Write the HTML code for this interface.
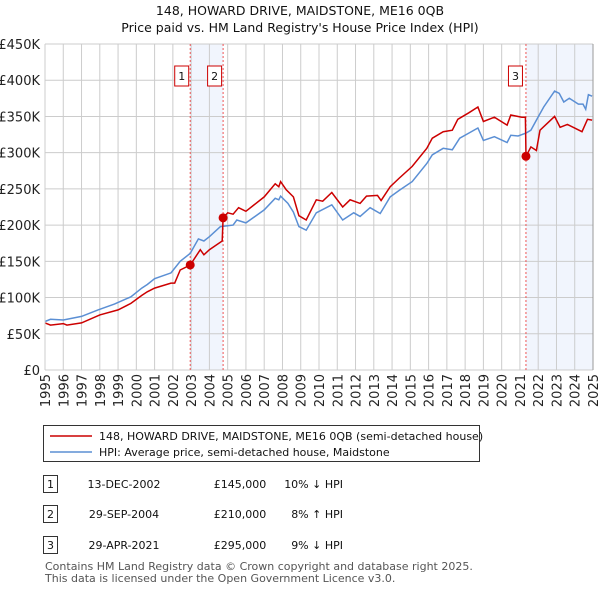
<!DOCTYPE html>
<html><head><meta charset="utf-8">
<style>
body{margin:0;background:#fff;font-family:"Liberation Sans","DejaVu Sans",sans-serif;}
#wrap{position:relative;width:600px;height:590px;overflow:hidden;}
svg text{font-family:"DejaVu Sans","Liberation Sans",sans-serif;}
</style></head>
<body>
<div id="wrap">
<svg id="chart" width="600" height="590"></svg>
</div>
<script>
const yTicks=[0,50,100,150,200,250,300,350,400,450];
const yTickLabels=["£0","£50K","£100K","£150K","£200K","£250K","£300K","£350K","£400K","£450K"];
const xTicks=[1995,1996,1997,1998,1999,2000,2001,2002,2003,2004,2005,2006,2007,2008,2009,2010,2011,2012,2013,2014,2015,2016,2017,2018,2019,2020,2021,2022,2023,2024,2025];
const hpiYears=[1995,1995.3,1996,1997,1997.9,1998.8,1999.7,2000.3,2000.6,2001,2001.9,2002.4,2002.95,2003.4,2003.7,2004,2004.6,2005.3,2005.5,2006,2007,2007.6,2007.8,2007.9,2008.3,2008.6,2008.9,2009.3,2009.85,2010.7,2011.3,2011.9,2012.25,2012.8,2013.35,2013.9,2014.4,2015.1,2015.9,2016.2,2016.8,2017.3,2017.7,2018.2,2018.7,2019,2019.6,2020.3,2020.5,2020.9,2021.33,2021.6,2021.9,2022.3,2022.9,2023.15,2023.4,2023.7,2024.2,2024.45,2024.6,2024.75,2024.95];
const hpiValues=[67,70,69,74,83,91,101,113,118,126,134,150,161,181,178,184,198,200,207,203,221,237,235,240,230,218,198,193,217,228,207,217,212,224,216,239,248,260,285,297,306,304,320,327,334,317,322,314,324,323,327,331,345,363,385,382,370,375,367,367,360,380,378];
const ppYears=[1995,1995.3,1996,1996.2,1997,1998,1999,1999.7,2000.3,2000.6,2001,2001.9,2002.1,2002.4,2002.95,2003.5,2003.7,2004,2004.7,2004.75,2005,2005.3,2005.6,2006,2007,2007.6,2007.8,2007.9,2008.2,2008.6,2008.9,2009.3,2009.85,2010.2,2010.7,2011.3,2011.7,2012.25,2012.6,2013.2,2013.4,2013.9,2014.4,2015.1,2015.9,2016.2,2016.8,2017.3,2017.6,2018.2,2018.7,2019,2019.6,2020.3,2020.5,2021.1,2021.3,2021.33,2021.6,2021.9,2022.1,2022.9,2023.2,2023.6,2024.4,2024.7,2024.95];
const ppValues=[65,62,64,62,65,76,83,92,103,108,113,120,120,138,145,166,159,166,178,210,217,215,224,219,239,257,253,260,249,239,213,207,235,233,245,225,235,230,240,241,234,253,265,281,306,320,329,331,346,355,363,343,349,338,352,349,349,295,308,303,331,350,335,339,329,346,345];
const saleYears=[2002.95,2004.75,2021.33];
const saleValues=[145,210,295];
const saleLabels=["1","2","3"];

const NS="http://www.w3.org/2000/svg";
const svg=document.getElementById('chart');
const L=45,R=593,T=44,B=370;
const x=y=>L+(y-1995)/30*(R-L);
const yv=v=>B-v/450*(B-T);
function el(tag,attrs,parent){const e=document.createElementNS(NS,tag);for(const k in attrs)e.setAttribute(k,attrs[k]);(parent||svg).appendChild(e);return e;}

// shaded regions
let s1=el('rect',{x:x(saleYears[0]),y:T,width:x(saleYears[1])-x(saleYears[0]),height:B-T,fill:'#eef3fc',opacity:0.8});


let s2=el('rect',{x:x(saleYears[2]),y:T,width:R-x(saleYears[2]),height:B-T,fill:'#eef3fc',opacity:0.8});



// grid
yTicks.forEach((t,i)=>{
  let g=el('line',{x1:L,x2:R,y1:yv(t),y2:yv(t),stroke:'#cccccc','stroke-width':1});
  
  
  let tx=el('text',{x:40,y:yv(t)+5,'text-anchor':'end','font-size':13,fill:'#222'});
  tx.textContent=yTickLabels[i];
  
  
});
xTicks.forEach(t=>{
  let g=el('line',{x1:x(t),x2:x(t),y1:T,y2:B,stroke:'#cccccc','stroke-width':1});
  
  
  let tx=el('text',{x:0,y:0,'text-anchor':'end','font-size':13,fill:'#222',transform:`translate(${x(t)+5},374) rotate(-90)`});
  tx.textContent=t;
  
  
});

// sale dashed lines
saleYears.forEach((s,i)=>{
  let d=el('line',{x1:x(s),x2:x(s),y1:T,y2:B,stroke:'#ee5555','stroke-width':1,'stroke-dasharray':'2,2'});
  
  
  let bx=x(s)-(i===2?11:9);
  let r=el('rect',{x:bx-6.5,y:66,width:14,height:20,fill:'#fff',stroke:'#cc0000','stroke-width':1});
  
  
  let t=el('text',{x:bx+0.5,y:80,'text-anchor':'middle','font-size':11,fill:'#111'});
  t.textContent=saleLabels[i];
  
  
});

function pts(xs,vs){return xs.map((a,i)=>x(a).toFixed(1)+','+yv(vs[i]).toFixed(1)).join(' ');}
let hl=el('polyline',{points:pts(hpiYears,hpiValues),fill:'none',stroke:'#5b8fd4','stroke-width':1.5});


let pl=el('polyline',{points:pts(ppYears,ppValues),fill:'none',stroke:'#cc0000','stroke-width':1.5});


saleYears.forEach((s,i)=>{
  let c=el('circle',{cx:x(s),cy:yv(saleValues[i]),r:4.5,fill:'#cc0000'});
  
  
});
// axis border
let ax=el('line',{x1:L,x2:L,y1:T,y2:B,stroke:'#cccccc'});


let ar=el('line',{x1:R,x2:R,y1:T,y2:B,stroke:'#999'});



// titles
function txt(str,attrs,name){let t=el('text',attrs);t.textContent=str;return t;}
txt('148, HOWARD DRIVE, MAIDSTONE, ME16 0QB',{x:300,y:15,'text-anchor':'middle','font-size':12.5,fill:'#111'},'chart-title');
txt("Price paid vs. HM Land Registry's House Price Index (HPI)",{x:300,y:32,'text-anchor':'middle','font-size':12.5,fill:'#111'},'chart-subtitle');

// legend
let lg=el('rect',{x:43.5,y:425.5,width:436,height:36,fill:'#fff',stroke:'#333'});


let l1=el('line',{x1:50,x2:92,y1:436,y2:436,stroke:'#cc0000','stroke-width':1.5});


txt('148, HOWARD DRIVE, MAIDSTONE, ME16 0QB (semi-detached house)',{x:99,y:440,'font-size':11,fill:'#111'},'legend-entry-price');
let l2=el('line',{x1:50,x2:92,y1:452,y2:452,stroke:'#5b8fd4','stroke-width':1.5});


txt('HPI: Average price, semi-detached house, Maidstone',{x:99,y:456,'font-size':11,fill:'#111'},'legend-entry-hpi');

// table
const rowY=[484,514,545];
const dates=['13-DEC-2002','29-SEP-2004','29-APR-2021'];
const prices=['£145,000','£210,000','£295,000'];
const pcts=['10% \u2193 HPI','8% \u2191 HPI','9% \u2193 HPI'];
rowY.forEach((ry,i)=>{
  let b=el('rect',{x:43.5,y:ry-8.5,width:14,height:17,fill:'#fff',stroke:'#333'});
  
  
  txt(saleLabels[i],{x:50.5,y:ry+4,'text-anchor':'middle','font-size':11,fill:'#111'},'table-row-number');
  txt(dates[i],{x:124,y:ry+4,'text-anchor':'middle','font-size':11,fill:'#111'},'table-date');
  txt(prices[i],{x:240,y:ry+4,'text-anchor':'middle','font-size':11,fill:'#111'},'table-price');
  txt(pcts[i],{x:343,y:ry+4,'text-anchor':'end','font-size':11,fill:'#111'},'table-hpi-diff');
});
txt('Contains HM Land Registry data \u00a9 Crown copyright and database right 2025.',{x:45,y:570,'font-size':11,fill:'#555'},'footer-line-1');
txt('This data is licensed under the Open Government Licence v3.0.',{x:45,y:582,'font-size':11,fill:'#555'},'footer-line-2');
</script>
</body></html>
